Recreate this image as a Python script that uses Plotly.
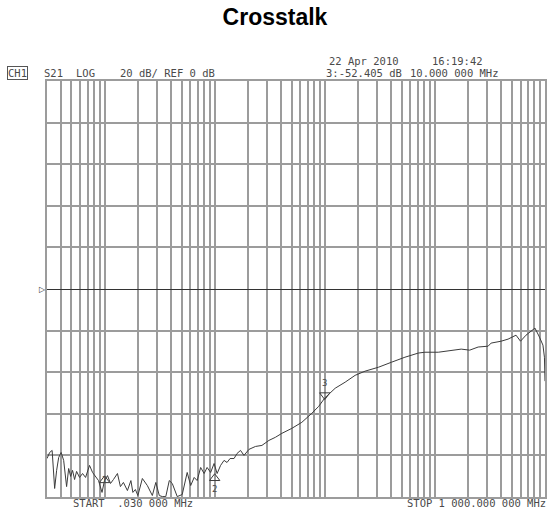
import plotly.graph_objects as go

# sweep (MHz, dB)
freq_mhz = [
    0.030, 0.0317, 0.0334, 0.0352, 0.0367, 0.0383, 0.0403, 0.0425, 0.0452, 0.0472,
    0.0492, 0.0512, 0.0534, 0.0557, 0.0593, 0.0631, 0.0672, 0.0730, 0.0778, 0.0836,
    0.0881, 0.0948, 0.0998, 0.1063, 0.1132, 0.1204, 0.1309, 0.1393, 0.1483, 0.1612,
    0.1734, 0.1808, 0.1905, 0.2006, 0.2204, 0.2446, 0.2715, 0.2920, 0.3141, 0.3344,
    0.3597, 0.3870, 0.4120, 0.4570, 0.5072, 0.5629, 0.6055, 0.6514, 0.6933, 0.7459,
    0.8020, 0.8538, 0.9187, 0.9880, 1.052, 1.132, 1.217, 1.295, 1.379, 1.499,
    1.595, 1.717, 1.846, 2.049, 2.346, 2.686, 3.109, 3.560, 4.075, 5.019,
    6.183, 7.615, 8.813, 10.0, 12.43, 15.31, 18.86, 23.22, 30.76, 40.33,
    53.43, 70.79, 81.10, 107.4, 123.0, 173.4, 207.1, 247.2, 304.4, 324.1,
    399.2, 461.8, 545.5, 599.2, 671.9, 810.6, 890.4, 957.8, 988.1, 1000.0,
]
s21_db = [
    -81.5, -78.6, -77.6, -95.9, -87.2, -81.0, -78.6, -82.4, -95.0, -86.3,
    -90.1, -87.2, -91.6, -87.7, -90.6, -88.7, -90.6, -84.8, -88.2, -90.6,
    -92.1, -97.8, -92.1, -89.7, -93.5, -91.6, -88.7, -95.0, -93.0, -96.9,
    -92.1, -97.8, -96.4, -99.3, -91.1, -94.5, -99.3, -93.0, -99.3, -99.8,
    -99.8, -92.1, -93.5, -99.8, -98.8, -88.2, -94.5, -90.6, -92.1, -85.8,
    -88.7, -85.8, -88.2, -83.9, -88.7, -84.8, -82.4, -83.4, -81.5, -81.5,
    -79.1, -77.6, -80.0, -77.1, -75.7, -75.2, -72.8, -71.3, -69.4, -67.0,
    -64.1, -59.8, -56.4, -52.405, -47.7, -44.8, -41.5, -39.5, -37.6, -35.2,
    -32.8, -30.8, -30.4, -30.4, -29.9, -28.9, -29.4, -27.9, -27.5, -26.0,
    -25.1, -24.1, -22.2, -25.1, -22.2, -18.8, -23.1, -27.0, -32.8, -44.3,
]

marker_ids = ["1", "2", "3"]
marker_freq = [0.1, 1.0, 10.0]
marker_db = [-92.0, -91.0, -51.0]

MONO = "DejaVu Sans Mono"
TXT = "#4a4a4a"
GRID = "#9c9c9c"

PLOT_L, PLOT_T = 47, 81


def screen_note(text, x, y, anchor="left", **kw):
    # header/footer text placed in screen pixels around the graticule
    return dict(text=text, xref="paper", yref="paper", x=0, y=1,
                xshift=x - PLOT_L, yshift=PLOT_T - y,
                xanchor=anchor, yanchor="middle", showarrow=False,
                font=dict(family=MONO, size=10.5, color=TXT), **kw)


fig = go.Figure()
fig.add_trace(go.Scatter(x=freq_mhz, y=s21_db, mode="lines",
                         line=dict(color="#3c3c3c", width=1),
                         hoverinfo="skip", showlegend=False))
fig.add_trace(go.Scatter(x=marker_freq[:2], y=marker_db[:2], mode="markers+text",
                         marker=dict(symbol="triangle-up-open", size=9,
                                     color="#3c3c3c", line=dict(width=1)),
                         text=marker_ids[:2],
                         textposition=["middle center", "bottom center"],
                         textfont=dict(family=MONO, size=9, color=TXT),
                         showlegend=False))
fig.add_trace(go.Scatter(x=marker_freq[2:], y=marker_db[2:], mode="markers+text",
                         marker=dict(symbol="triangle-down-open", size=9,
                                     color="#3c3c3c", line=dict(width=1)),
                         text=marker_ids[2:], textposition="top center",
                         textfont=dict(family=MONO, size=9, color=TXT),
                         showlegend=False))

notes = [
    screen_note("CH1", 7, 73, bordercolor="#555", borderwidth=1, borderpad=0),
    screen_note("S21", 42, 73),
    screen_note("LOG", 74, 73),
    screen_note("20 dB/ REF 0 dB", 118, 73),
    screen_note("22 Apr 2010", 327, 61),
    screen_note("16:19:42", 430, 61),
    screen_note("3:-52.405 dB", 324, 73),
    screen_note("10.000 000 MHz", 408, 73),
    screen_note("START  .030 000 MHz", 71, 503),
    screen_note("STOP 1 000.000 000 MHz", 548, 503, anchor="right"),
    dict(text="▷", xref="paper", yref="y", x=0, y=0, xanchor="right",
         yanchor="middle", xshift=1, showarrow=False,
         font=dict(family="DejaVu Sans", size=8, color="#333")),
]

fig.update_layout(
    width=550, height=509,
    paper_bgcolor="#FFFFFF", plot_bgcolor="#FFFFFF",
    margin=dict(l=PLOT_L, r=3, t=PLOT_T, b=12),
    title=dict(text="<b>Crosstalk</b>", x=0.5, xanchor="center",
               y=1 - 17 / 509, yanchor="middle",
               font=dict(family="Liberation Sans", size=23, color="#000")),
    xaxis=dict(type="log", range=[-1.5229, 3.0], dtick="D1",
               showticklabels=False, ticks="", showgrid=True,
               gridcolor=GRID, gridwidth=1.6,
               showline=True, linecolor=GRID, linewidth=1.6, mirror=True),
    yaxis=dict(range=[-100, 100], dtick=20, showticklabels=False, ticks="",
               showgrid=True, gridcolor=GRID, gridwidth=1.6,
               zeroline=True, zerolinecolor="#333", zerolinewidth=1.2,
               showline=True, linecolor=GRID, linewidth=1.6, mirror=True),
    annotations=notes,
)

# the page body has a default margin; drop it so the figure sits at (0, 0)
fig.write_html("out.html", config={"displayModeBar": False},
               post_script="document.body.style.margin='0';")
